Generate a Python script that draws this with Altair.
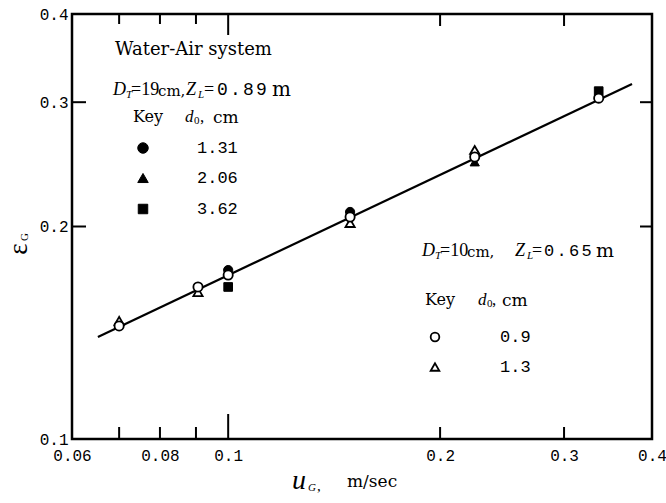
import altair as alt
import pandas as pd

# ---------------- data ----------------
x_tick_labels = [0.06, 0.08, 0.1, 0.2, 0.3, 0.4]
y_tick_labels = [0.1, 0.2, 0.3, 0.4]

# D_T=10 cm, Z_L=0.65 m
x_open_circle = [0.070, 0.0906, 0.100, 0.149, 0.224, 0.336]
y_open_circle = [0.1446, 0.1642, 0.1707, 0.2063, 0.2509, 0.304]
x_open_tri = [0.070, 0.0906, 0.149, 0.224]
y_open_tri = [0.147, 0.1615, 0.2023, 0.2567]
# D_T=19 cm, Z_L=0.89 m
x_fill_circle = [0.100, 0.149]
y_fill_circle = [0.1735, 0.2097]
x_fill_tri = [0.224]
y_fill_tri = [0.2469]
x_fill_sq = [0.100, 0.336]
y_fill_sq = [0.1642, 0.311]

# fitted line
line_x = [0.0653, 0.3747]
line_y = [0.1395, 0.3183]

minor_x = [0.07, 0.08, 0.09, 0.2, 0.3]
major_x = [0.1]
minor_y = [0.2, 0.3]

title_text = "Water-Air system"
left_key_values = ["1.31", "2.06", "3.62"]
right_key_values = ["0.9", "1.3"]

# ---------------- layout ----------------
X0, Y0 = 72, 14
W, H = 580, 425
SERIF = "Liberation Serif"
SERIF2 = "DejaVu Serif"
MONO = "Liberation Mono"

xs = alt.Scale(type="log", domain=[0.06, 0.4], nice=False)
ys = alt.Scale(type="log", domain=[0.1, 0.4], nice=False)

xaxis = alt.Axis(values=x_tick_labels, format=".2~f", title=None, ticks=False, domain=False,
                 grid=False, labelFont=MONO, labelFontSize=16, labelColor="black",
                 labelPadding=8, labelFlush=False, labelOverlap=False)
yaxis = alt.Axis(values=y_tick_labels, format=".1~f", title=None, ticks=False, domain=False,
                 grid=False, labelFont=MONO, labelFontSize=16, labelColor="black",
                 labelPadding=4, labelFlush=False, labelOverlap=False)
X = lambda: alt.X("x:Q", scale=xs, axis=xaxis)
Y = lambda: alt.Y("y:Q", scale=ys, axis=yaxis)


def T(s, x, y, size=17, font=SERIF, style="normal", align="left", angle=0):
    return alt.Chart(pd.DataFrame({"t": [s]})).mark_text(
        align=align, baseline="middle", font=font, fontSize=size,
        fontStyle=style, angle=angle, color="black"
    ).encode(x=alt.value(x - X0), y=alt.value(y - Y0), text="t:N")


def spaced(s, x, y, pitch, size=18, font=MONO):
    return [T(ch, x + i * pitch, y, size=size, font=font) for i, ch in enumerate(s)]


def pts(xv, yv, shape, filled, size):
    df = pd.DataFrame({"x": xv, "y": yv})
    return alt.Chart(df).mark_point(
        shape=shape, filled=True, fill="black" if filled else "white",
        stroke="black", strokeWidth=1 if filled else 1.8, size=size, opacity=1
    ).encode(x=X(), y=Y())


def key_pt(shape, filled, size, x, y):
    return alt.Chart(pd.DataFrame({"k": [0]})).mark_point(
        shape=shape, filled=True, fill="black" if filled else "white",
        stroke="black", strokeWidth=1 if filled else 1.8, size=size, opacity=1
    ).encode(x=alt.value(x - X0), y=alt.value(y - Y0))


def xtick(vals, y1, y2):
    return alt.Chart(pd.DataFrame({"x": vals})).mark_rule(color="black", strokeWidth=2).encode(
        x=X(), y=alt.value(y1), y2=alt.value(y2))


def ytick(vals, x1, x2):
    return alt.Chart(pd.DataFrame({"y": vals})).mark_rule(color="black", strokeWidth=2).encode(
        y=Y(), x=alt.value(x1), x2=alt.value(x2))


base = alt.Chart(pd.DataFrame({"x": line_x, "y": line_y})).mark_line(
    color="black", strokeWidth=2.2
).encode(x=X(), y=Y())

layers = [
    base,
    xtick(minor_x, H, H - 12), xtick(major_x, H, H - 25),
    xtick([0.07, 0.08, 0.09], 0, 10), xtick([0.2, 0.3], 0, 12), xtick(major_x, 0, 21),
    ytick(minor_y, 0, 14), ytick(minor_y, W, W - 12),
    pts(x_fill_sq, y_fill_sq, "square", True, 75),
    pts(x_fill_tri, y_fill_tri, "triangle-up", True, 85),
    pts(x_fill_circle, y_fill_circle, "circle", True, 85),
    pts(x_open_tri, y_open_tri, "triangle-up", False, 85),
    pts(x_open_circle, y_open_circle, "circle", False, 85),
    # left annotation block
    T(title_text, 115, 50, size=18, font=SERIF2),
    T("D", 113, 90, size=18, style="italic"), T("T", 126, 95, size=11, style="italic"),
    T("=19", 131, 90, size=18), T("cm,", 158, 91, size=15, font=SERIF2),
    T("Z", 186, 90, size=18, style="italic"), T("L", 198, 95, size=11, style="italic"),
    T("=", 204, 90, size=18),
    *spaced("0.89", 217, 90, 13, size=18),
    T("m", 272, 90, size=20, font=SERIF2),
    T("Key", 133, 117, size=16, font=SERIF2), T("d", 185, 117, size=17, style="italic"),
    T("0", 194, 121, size=11), T(",", 200, 117, size=17), T("cm", 213, 118, size=17, font=SERIF2),
    key_pt("circle", True, 110, 143, 148),
    key_pt("triangle-up", True, 110, 143, 178),
    key_pt("square", True, 90, 143, 209),
    T(left_key_values[0], 197, 148, size=17, font=MONO),
    T(left_key_values[1], 197, 178, size=17, font=MONO),
    T(left_key_values[2], 197, 209, size=17, font=MONO),
    # right annotation block
    T("D", 422, 251, size=18, style="italic"), T("T", 435, 256, size=11, style="italic"),
    T("=10", 440, 251, size=18), T("cm,", 467, 252, size=15, font=SERIF2),
    T("Z", 515, 251, size=18, style="italic"), T("L", 527, 256, size=11, style="italic"),
    T("=", 532, 251, size=18),
    *spaced("0.65", 544, 251, 12.5, size=17),
    T("m", 596, 251, size=19, font=SERIF2),
    T("Key", 425, 300, size=16, font=SERIF2), T("d", 478, 300, size=17, style="italic"),
    T("0", 487, 304, size=11), T(",", 492, 300, size=17), T("cm", 502, 301, size=17, font=SERIF2),
    key_pt("circle", False, 75, 435, 337),
    key_pt("triangle-up", False, 75, 435, 367),
    T(right_key_values[0], 500, 337, size=17, font=MONO),
    T(right_key_values[1], 500, 367, size=17, font=MONO),
    # axis titles
    T("ε", 19, 249, size=27, align="center", angle=270),
    T("G", 25, 237, size=11, align="center", angle=270),
    T("u", 292, 481, size=28, style="italic"),
    T("G", 308, 488, size=11, style="italic"), T(",", 317, 486, size=15),
    T("m/sec", 347, 482, size=17, font=SERIF2),
]

chart = alt.layer(*layers).properties(
    width=W, height=H,
    autosize=alt.AutoSizeParams(type="none"),
    padding={"left": X0, "top": Y0, "right": 666 - X0 - W, "bottom": 503 - Y0 - H},
    background="white",
).configure_view(stroke="black", strokeWidth=2.5)

chart.save("out.html", embed_options={"renderer": "svg", "actions": False})
